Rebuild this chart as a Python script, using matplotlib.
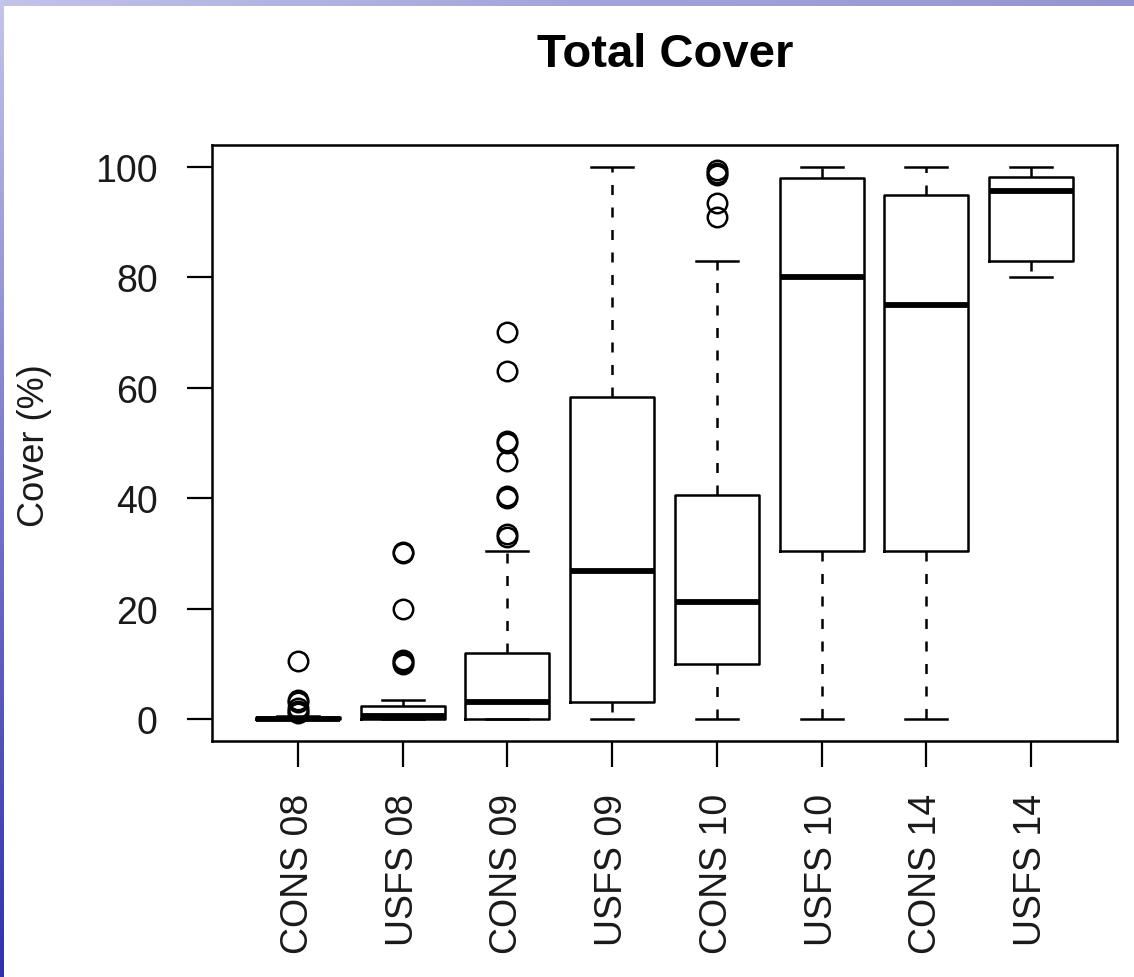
import numpy as np
import matplotlib
matplotlib.use("Agg")
import matplotlib.pyplot as plt
from matplotlib.colors import LinearSegmentedColormap

plt.rcParams['font.family'] = ['Liberation Sans', 'DejaVu Sans']

# groups and box statistics
groups = ["CONS 08", "USFS 08", "CONS 09", "USFS 09",
          "CONS 10", "USFS 10", "CONS 14", "USFS 14"]
whis_lo = [0, 0, 0, 0, 0, 0, 0, 80]
q1 = [0, 0, 0, 3, 10, 30.5, 30.5, 83]
medians = [0, 0.5, 3, 26.8, 21.2, 80, 75, 95.6]
q3 = [0.3, 2.3, 12, 58.3, 40.5, 98, 95, 98.2]
whis_hi = [0.5, 3.4, 30.5, 100, 83, 100, 100, 100]
outliers = [
    [1, 1.5, 2, 3, 3.5, 10.5],
    [10, 10.3, 10.6, 20, 30, 30.3],
    [33, 33.5, 40, 40.4, 46.7, 50, 50.4, 63, 70.2],
    [],
    [91, 93.5, 98.6, 99, 99.4],
    [],
    [],
    [],
]
yticks = [0, 20, 40, 60, 80, 100]

W, H = 1134, 978
fig = plt.figure(figsize=(W / 100, H / 100), dpi=100)

# slide border (blue gradient strips on top and left)
top_cm = LinearSegmentedColormap.from_list("top", ["#c2c2ea", "#a4a4dc", "#9494d2"])
left_cm = LinearSegmentedColormap.from_list("left", ["#c4c4ec", "#7676cc", "#3030b0"])
bt = fig.add_axes([0, 1 - 7 / H, 1, 7 / H])
bt.imshow(np.linspace(0, 1, 256)[None, :], aspect="auto", cmap=top_cm)
bt.axis("off")
bl = fig.add_axes([0, 0, 3.5 / W, 1])
bl.imshow(np.linspace(0, 1, 256)[:, None], aspect="auto", cmap=left_cm)
bl.axis("off")

ax = fig.add_axes([212 / W, 1 - 742 / H, (1117 - 212) / W, (742 - 146) / H])

stats = []
for i, g in enumerate(groups):
    stats.append(dict(label=g, whislo=whis_lo[i], q1=q1[i], med=medians[i],
                      q3=q3[i], whishi=whis_hi[i], fliers=outliers[i]))

pos = np.arange(1, len(groups) + 1)
ax.bxp(stats, positions=pos, widths=0.8, showfliers=True,
       boxprops=dict(color="black", linewidth=1.8),
       medianprops=dict(color="black", linewidth=4.2, solid_capstyle="butt"),
       whiskerprops=dict(color="black", linewidth=1.8, linestyle=(0, (4, 5))),
       capprops=dict(color="black", linewidth=1.8),
       capwidths=0.4,
       flierprops=dict(marker="o", markersize=14, markerfacecolor="none",
                       markeredgecolor="black", markeredgewidth=1.8))

ax.set_xlim(0.18, 8.82)
ax.set_ylim(-4, 104)
ax.set_yticks(yticks)
ax.set_yticklabels([str(t) for t in yticks])
ax.set_xticks(pos)
ax.set_xticklabels(groups, rotation=90)

for s in ax.spines.values():
    s.set_linewidth(1.8)
ax.tick_params(axis="y", length=18, width=1.6, pad=21, labelsize=27, labelcolor="#1a1a1a")
ax.tick_params(axis="x", length=18.5, width=1.6, pad=19, labelsize=27, labelcolor="#1a1a1a")

fig.text(35 / W, 1 - 446 / H, "Cover (%)", rotation=90, ha="center", va="center",
         fontsize=26, color="#1a1a1a")
fig.text(665 / W, 1 - 55 / H, "Total Cover", ha="center", va="center",
         fontsize=34, fontweight="bold")

fig.savefig("out.png", dpi=100)
